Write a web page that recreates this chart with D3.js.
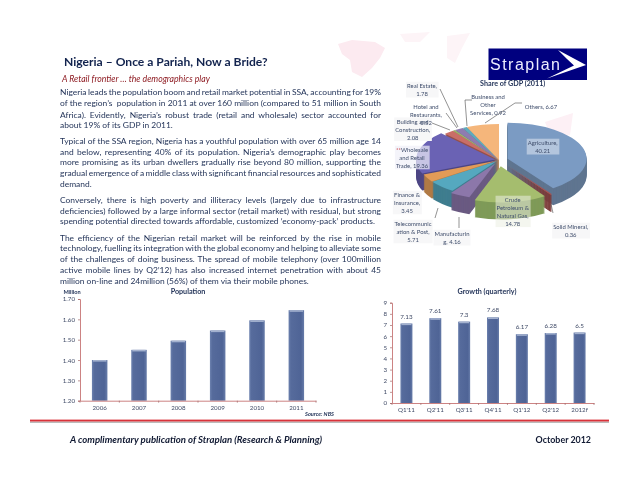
<!DOCTYPE html>
<html><head><meta charset="utf-8">
<script src="https://cdn.jsdelivr.net/npm/d3@7"></script>
<style>
html,body{margin:0;padding:0;background:#fff}
svg{display:block;font-family:Lato,"Open Sans",sans-serif;filter:blur(0.3px)}
</style></head><body>
<svg id="c" width="638" height="493"></svg>
<script>
// ---- data ----
const popYears = ["2006","2007","2008","2009","2010","2011"];
const popValues = [1.40,1.45,1.495,1.545,1.595,1.645];
const popTicks = [1.2,1.3,1.4,1.5,1.6,1.7];
const growthQuarters = ["Q1'11","Q2'11","Q3'11","Q4'11","Q1'12","Q2'12","2012f"];
const growthValues = [7.13,7.61,7.3,7.68,6.17,6.28,6.32];
const growthLabels = ["7.13","7.61","7.3","7.68","6.17","6.28","6.5"];
const growthTicks = [0,1,2,3,4,5,6,7,8,9];
const gdpSectors = ["Agriculture","Solid Mineral","Crude Petroleum","Manufacturing","Telecommunication","Finance","Wholesale","Building","Hotel","Real Estate","Business","Others"];
const gdpValues = [40.21,0.36,14.78,4.16,5.71,3.45,19.36,2.08,0.52,1.78,0.92,6.67];

// ---- styling / layout (separate from the data) ----
const topColors = ["#7b9bc3","#a9524f","#a5bd6e","#8c77aa","#55a8bf","#e29b57","#6a62b4","#c96e67","#9cb46a","#8e7cb0","#60aabc","#f5b67b"];
const sideColors = ["#5f7590","#7c3b39","#7f9a58","#6a5a82","#3f7d8f","#b07a45","#4d4684","#95504b","#748651","#6a5d84","#47808e","#c08f60"];
const explode = [9,13,14,8,3,3,4,0,0,0,0,0];
const gdpLabelLayout = [
 {x:542.7,y:143,bg:"rgba(235,240,248,.5)",lines:["Agriculture,","40.21"]},
 {x:570.7,y:227,bg:"#f7f7f8",lines:["Solid Mineral,","0.36"]},
 {x:512.7,y:200,bg:"rgba(235,238,225,.55)",lines:["Crude","Petroleum &","Natural Gas,","14.78"]},
 {x:452,y:234,bg:"#f7f7f8",lines:["Manufacturin","g, 4.16"]},
 {x:413,y:224,bg:"#f7f7f8",lines:["Telecommunic","ation & Post,","5.71"]},
 {x:407,y:195,bg:"#f7f7f8",lines:["Finance &","Insurance,","3.45"]},
 {x:412,y:150,bg:"rgba(240,240,248,.7)",lines:["**Wholesale","and Retail","Trade, 19.36"]},
 {x:412.7,y:121.7,bg:"#f7f7f8",lines:["Building and","Construction,","2.08"]},
 {x:426,y:107,bg:null,lines:["Hotel and","Restaurants,","0.52"]},
 {x:422,y:86,bg:"#f7f7f8",lines:["Real Estate,","1.78"]},
 {x:488,y:97,bg:null,lines:["Business and","Other","Services, 0.92"]},
 {x:541,y:106.7,bg:null,lines:["Others, 6.67"]}
];
const leaderLines = [
 [[440,89],[458,127]],[[446,113],[457,128]],[[432,123],[450,130]],
 [[472,100],[465,100],[467,126]],[[522,103],[515,103],[485,123]],
 [[553,213],[551,204]],[[438,208],[435,218]],[[459,217],[459,228]]
];
const body = [
 [92,1,"Nigeria leads the population boom and retail market potential in SSA, accounting for 19%"],
 [102.5,1,"of the region’s  population in 2011 at over 160 million (compared to 51 million in South"],
 [114.6,1,"Africa). Evidently, Nigeria’s robust trade (retail and wholesale) sector accounted for"],
 [125,0,"about 19% of its GDP in 2011."],
 [140.7,1,"Typical of the SSA region, Nigeria has a youthful population with over 65 million age 14"],
 [151.7,1,"and below, representing 40% of its population. Nigeria’s demographic play becomes"],
 [162,1,"more promising as its urban dwellers gradually rise beyond 80 million, supporting the"],
 [173,1,"gradual emergence of a middle class with significant financial resources and sophisticated"],
 [184,0,"demand."],
 [200,1,"Conversely, there is high poverty and illiteracy levels (largely due to infrastructure"],
 [211,1,"deficiencies) followed by a large informal sector (retail market) with residual, but strong"],
 [221,0,"spending potential directed towards affordable, customized ‘economy-pack’ products."],
 [238,1,"The efficiency of the Nigerian retail market will be reinforced by the rise in mobile"],
 [248,1,"technology, fuelling its integration with the global economy and helping to alleviate some"],
 [259,1,"of the challenges of doing business. The spread of mobile telephony (over 100million"],
 [270,1,"active mobile lines by Q2’12) has also increased internet penetration with about 45"],
 [281,0,"million on-line and 24million (56%) of them via their mobile phones."]
];

const svg = d3.select("#c");
const navy = "#1e2f55";
const defs = svg.append("defs");
const grad = defs.append("linearGradient").attr("id","barG");
[[0,"#6d82af"],[.15,"#566b9c"],[.8,"#4f6496"],[1,"#677ca9"]].forEach(s=>grad.append("stop").attr("offset",s[0]).attr("stop-color",s[1]));

// faint background decoration
const blobs = svg.append("g");
blobs.append("path").attr("fill","#fceaf0").attr("d","M338 44 L352 40 L375 42 L385 48 L380 58 L372 68 L362 77 L352 72 L350 60 L342 54Z");
blobs.append("path").attr("fill","#fdf4f7").attr("d","M400 34 L430 32 L420 42 L405 42Z M447 36 L470 33 L462 48 L455 63 L447 58Z");
blobs.append("path").attr("fill","#fdf0f5").attr("d","M545 122 L573 113 L570 135 L552 140Z");

// heading
svg.append("text").attr("x",64).attr("y",66).attr("font-size",12.1).attr("font-weight",700).attr("fill","#12234e").text("Nigeria – Once a Pariah, Now a Bride?");
svg.append("text").attr("x",62).attr("y",81.5).attr("font-size",8.7).attr("font-style","italic").attr("fill","#8e1b22").text("A Retail frontier … the demographics play");

// body text, justified to the column
const bodyLeft = 60, bodyRight = 381;
svg.append("g").selectAll("text").data(body).join("text")
  .attr("x",bodyLeft).attr("y",d=>d[0]+3).attr("font-size",8.45).attr("fill",navy)
  .attr("xml:space","preserve").text(d=>d[2])
  .each(function(d){
    const len = this.getComputedTextLength();
    const gaps = d[2].split(" ").length-1;
    if(d[1]) d3.select(this).attr("word-spacing",(bodyRight-bodyLeft-len)/gaps);
  });

// logo
const logo = svg.append("g");
logo.append("rect").attr("x",488.5).attr("y",48.5).attr("width",98.5).attr("height",31.5).attr("fill","#00007f");
logo.append("text").attr("x",490).attr("y",70).attr("font-family","Liberation Sans").attr("font-size",16)
  .attr("textLength",70).attr("lengthAdjust","spacing").attr("fill","#eeeeff").text("Straplan");
logo.append("path").attr("d","M558 50 L586 65 L547 78.5 L574 65.5 L567 59 Z").attr("fill","#fff");

// pie
const cx=499, cy=160, rx=79, ry=36, depth=17;
const squash = ry/rx;
const pie = d3.pie().sort(null).value(d=>d)(gdpValues);
const arc = d3.arc().innerRadius(0).outerRadius(rx);
const off = (d,i)=>{const a=(d.startAngle+d.endAngle)/2; return [explode[i]*Math.sin(a),-explode[i]*Math.cos(a)*squash];};
const pieG = svg.append("g");
d3.range(depth,0,-1).forEach(z=>{
  pieG.append("g").selectAll("path").data(pie).join("path")
    .attr("d",arc).attr("fill",(d,i)=>sideColors[i])
    .attr("transform",(d,i)=>{const o=off(d,i);return `translate(${cx+o[0]},${cy+o[1]+z}) scale(1,${squash})`;});
});
pieG.append("g").selectAll("path").data(pie).join("path")
  .attr("d",arc).attr("fill",(d,i)=>topColors[i])
  .attr("transform",(d,i)=>{const o=off(d,i);return `translate(${cx+o[0]},${cy+o[1]}) scale(1,${squash})`;});

svg.append("g").attr("fill","none").attr("stroke","#4a4a4a").attr("stroke-width",.6)
  .selectAll("path").data(leaderLines).join("path").attr("d",d3.line());

svg.append("text").attr("x",512.7).attr("y",85.5).attr("text-anchor","middle").attr("font-size",7.2).attr("font-weight",700).attr("fill",navy).text("Share of GDP (2011)");

const lab = svg.append("g");
const labBg = lab.append("g"), labFg = lab.append("g");
gdpLabelLayout.forEach(d=>{
  const g = labFg.append("g");
  g.selectAll("text").data(d.lines).join("text")
   .attr("x",d.x).attr("y",(l,i)=>d.y+2.2+i*7.8).attr("text-anchor","middle")
   .attr("font-size",5.9).attr("fill","#3f4d6b")
   .each(function(l){
     const t = d3.select(this);
     if(l.startsWith("**")){
       t.append("tspan").attr("fill","#c8343a").text("**");
       t.append("tspan").text(l.slice(2));
     } else t.text(l);
   });
  if(d.bg){
    const b = g.node().getBBox();
    labBg.append("rect").attr("x",b.x-1).attr("y",b.y-.5).attr("width",b.width+2).attr("height",b.height+1).attr("fill",d.bg);
  }
});

// bar chart helper
function barChart(o){
  const x = d3.scaleBand().domain(o.cats).range([o.x0,o.x1]);
  const y = d3.scaleLinear().domain(o.dom).range([o.y0,o.y1]);
  const g = svg.append("g");
  const w = o.barW;
  const bars = g.append("g").selectAll("g").data(o.vals).join("g");
  bars.append("rect").attr("x",(d,i)=>x(o.cats[i])+x.step()/2-w/2).attr("y",d=>y(d))
    .attr("width",w).attr("height",d=>o.y0-y(d)).attr("fill","url(#barG)");
  bars.append("rect").attr("x",(d,i)=>x(o.cats[i])+x.step()/2-w/2+1).attr("y",d=>y(d))
    .attr("width",w-2).attr("height",1.6).attr("fill","#a3b1cf");
  const ay = g.append("g").attr("transform",`translate(${o.x0},0)`)
    .call(d3.axisLeft(y).tickValues(o.ticks).tickSize(2).tickPadding(3).tickFormat(o.fmt));
  const ax = g.append("g").attr("transform",`translate(0,${o.y0})`)
    .call(d3.axisBottom(x).tickSize(0).tickPadding(5));
  [ay,ax].forEach(a=>{
    a.selectAll(".domain").attr("stroke","#cc8383").attr("stroke-width",1);
    a.selectAll("line").attr("stroke","#a06a6a").attr("stroke-width",.7);
    a.selectAll("text").attr("font-family","Lato").attr("font-size",6.2).attr("fill","#3f4a66");
  });
  g.append("g").selectAll("line").data(d3.range(0,o.cats.length+1)).join("line")
    .attr("x1",i=>o.x0+i*x.step()).attr("x2",i=>o.x0+i*x.step()).attr("y1",o.y0).attr("y2",o.y0+2)
    .attr("stroke","#a06a6a").attr("stroke-width",.7);
  if(o.labels) g.append("g").selectAll("text").data(o.labels).join("text")
    .attr("x",(d,i)=>x(o.cats[i])+x.step()/2).attr("y",(d,i)=>y(o.vals[i])-5).attr("text-anchor","middle")
    .attr("font-size",6.3).attr("fill","#3f4a66").text(d=>d);
  svg.append("text").attr("x",o.titleX).attr("y",294).attr("text-anchor","middle").attr("font-size",7.2).attr("font-weight",700).attr("fill",navy).text(o.title);
}
barChart({cats:popYears,vals:popValues,ticks:popTicks,dom:[1.2,1.7],x0:80,x1:316,y0:400.7,y1:299,barW:15.5,fmt:d3.format(".2f"),title:"Population",titleX:188});
barChart({cats:growthQuarters,vals:growthValues,labels:growthLabels,ticks:growthTicks,dom:[0,9],x0:392,x1:594,y0:403,y1:302.7,barW:12,fmt:d3.format("d"),title:"Growth (quarterly)",titleX:487});

svg.append("text").attr("x",72).attr("y",293.5).attr("text-anchor","middle").attr("font-size",5.6).attr("font-weight",700).attr("fill",navy).text("Million");
svg.append("text").attr("x",305).attr("y",416).attr("font-size",5.6).attr("font-weight",700).attr("font-style","italic").attr("fill",navy).text("Source: NBS");

// footer
svg.append("rect").attr("x",30).attr("y",421.5).attr("width",579).attr("height",1.5).attr("fill","#bbb");
svg.append("rect").attr("x",30).attr("y",419.6).attr("width",579).attr("height",1.9).attr("fill","#d9323a");
svg.append("text").attr("x",70).attr("y",443).attr("font-size",9.6).attr("font-weight",700).attr("font-style","italic").attr("fill","#111a33").text("A complimentary publication of Straplan (Research & Planning)");
svg.append("text").attr("x",591).attr("y",443).attr("text-anchor","end").attr("font-size",8.9).attr("font-weight",700).attr("fill","#111a33").text("October 2012");
</script>
</body></html>
